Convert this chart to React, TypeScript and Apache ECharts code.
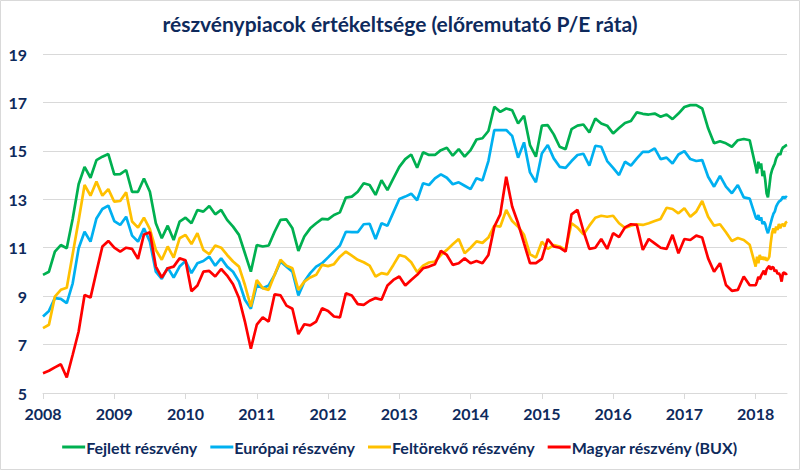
import React, { useEffect, useRef } from "react";
import * as echarts from "echarts";

const startYear = 2008;
const yearTicks = [2008, 2009, 2010, 2011, 2012, 2013, 2014, 2015, 2016, 2017, 2018];
const seriesNames = ["Fejlett részvény", "Európai részvény", "Feltörekvő részvény", "Magyar részvény (BUX)"];
const seriesColors = ["#00B050", "#00B0F0", "#FFC000", "#FF0000"];

// Monthly values, Jan 2008 – Dec 2017
const fejlettMonthly = [
  9.88, 10.01, 10.84, 11.11, 10.98, 12.2, 13.62, 14.34, 13.89, 14.62, 14.76, 14.87,
  14.03, 14.04, 14.21, 13.31, 13.31, 13.86, 13.31, 12.01, 11.39, 11.91, 11.32, 12.08,
  12.24, 12.01, 12.56, 12.49, 12.72, 12.38, 12.56, 12.15, 11.87, 11.53, 10.77, 10.01,
  11.11, 11.05, 11.09, 11.66, 12.15, 12.17, 11.8, 10.87, 11.46, 11.8, 12.01, 12.19,
  12.17, 12.35, 12.46, 13.07, 13.11, 13.31, 13.66, 13.59, 13.18, 13.79, 13.38, 13.86,
  14.34, 14.66, 14.85, 14.3, 14.94, 14.83, 14.83, 15.03, 15.13, 14.8, 15.07, 14.76,
  15.03, 15.47, 15.52, 15.82, 16.82, 16.61, 16.75, 16.68, 16.13, 16.45, 15.24, 14.76,
  16.04, 16.06, 15.68, 15.17, 15.07, 15.9, 16.04, 16.09, 15.76, 16.34, 16.13, 16.04,
  15.72, 15.94, 16.15, 16.23, 16.59, 16.53, 16.5, 16.54, 16.41, 16.5, 16.31, 16.54,
  16.81, 16.89, 16.89, 16.75, 15.93, 15.31, 15.4, 15.31, 15.17, 15.44, 15.49, 15.44,
];
const europaiMonthly = [
  8.16, 8.39, 8.92, 8.89, 8.71, 9.53, 10.98, 11.66, 11.25, 12.21, 12.6, 12.74,
  12.1, 11.94, 12.28, 11.5, 11.25, 11.8, 11.25, 10.01, 9.71, 10.18, 9.77, 10.22,
  10.45, 9.95, 10.36, 10.45, 10.63, 10.26, 10.56, 10.22, 10.01, 9.6, 8.85, 8.48,
  9.46, 9.33, 9.44, 9.88, 10.43, 10.22, 10.01, 9.03, 9.6, 9.95, 10.22, 10.36,
  10.6, 10.85, 11.09, 11.66, 11.64, 11.64, 11.97, 11.99, 11.36, 12.01, 11.91, 12.46,
  13.01, 13.11, 13.23, 12.96, 13.66, 13.59, 13.86, 14.03, 13.89, 13.62, 13.7, 13.56,
  13.42, 13.87, 13.78, 14.58, 15.86, 15.86, 15.86, 15.62, 14.72, 15.35, 14.11, 13.7,
  14.89, 15.24, 14.69, 14.34, 14.3, 14.58, 14.83, 14.88, 14.39, 15.21, 15.17, 14.58,
  14.3, 14.0, 14.55, 14.39, 14.69, 14.96, 14.96, 15.1, 14.66, 14.72, 14.48, 14.85,
  14.99, 14.66, 14.58, 14.62, 13.93, 13.52, 13.97, 13.52, 13.25, 13.59, 13.08, 13.03,
];
const feltorekvoMonthly = [
  7.68, 7.82, 8.98, 9.26, 9.35, 10.74, 12.12, 13.59, 13.15, 13.73, 13.15, 13.42,
  12.9, 12.93, 13.29, 12.08, 11.83, 12.24, 11.77, 10.91, 10.5, 11.05, 10.59, 11.39,
  11.53, 11.15, 11.6, 10.91, 10.73, 11.09, 11.0, 10.7, 10.43, 10.22, 9.46, 8.57,
  9.67, 9.33, 9.26, 9.88, 10.5, 10.26, 10.15, 9.26, 9.6, 9.77, 9.88, 10.29,
  10.24, 10.32, 10.63, 10.84, 10.67, 10.5, 10.4, 10.26, 9.81, 9.95, 9.9, 10.29,
  10.7, 10.63, 10.4, 9.99, 10.26, 10.39, 10.43, 10.7, 10.91, 11.14, 11.36, 10.77,
  11.0, 11.26, 11.2, 11.42, 11.91, 11.87, 12.56, 12.1, 11.87, 11.53, 10.73, 10.59,
  11.25, 10.95, 11.11, 11.05, 10.91, 12.01, 11.83, 11.55, 11.91, 12.24, 12.32, 12.28,
  12.32, 12.01, 11.82, 11.91, 11.97, 11.94, 12.01, 12.1, 12.19, 12.65, 12.6, 12.42,
  12.63, 12.28, 12.49, 12.93, 12.28, 11.91, 11.97, 11.64, 11.28, 11.4, 11.32, 11.12,
];
const magyarMonthly = [
  5.82, 5.92, 6.06, 6.19, 5.64, 6.58, 7.54, 9.05, 8.94, 10.01, 11.05, 11.28,
  11.0, 10.84, 11.0, 10.95, 10.54, 11.55, 11.64, 10.22, 9.77, 10.15, 10.22, 10.56,
  10.48, 9.2, 9.44, 10.01, 10.04, 9.81, 10.12, 9.85, 9.49, 8.92, 7.95, 6.83,
  7.82, 8.12, 7.95, 9.08, 9.03, 8.61, 8.48, 7.43, 7.84, 7.79, 7.95, 8.5,
  8.39, 8.16, 8.12, 9.12, 9.03, 8.67, 8.64, 8.81, 8.92, 8.85, 9.44, 9.67,
  9.81, 9.44, 9.67, 9.88, 10.15, 10.22, 10.32, 10.87, 10.7, 10.29, 10.36, 10.56,
  10.36, 10.45, 10.36, 10.7, 11.87, 12.38, 13.93, 12.7, 12.01, 11.18, 10.36, 10.36,
  10.54, 11.36, 11.05, 11.0, 10.84, 12.38, 12.56, 11.69, 10.95, 11.0, 11.36, 10.95,
  11.6, 11.44, 11.84, 11.97, 11.94, 10.91, 11.36, 11.18, 11.0, 10.95, 11.53, 10.77,
  11.36, 11.32, 11.5, 11.42, 10.56, 10.01, 10.36, 9.46, 9.22, 9.26, 9.81, 9.45,
];

// Weekly values, 2018
const fejlettWeekly2018 = [14.35, 14.07, 14.55, 14.28, 14.48, 13.96, 14.18, 13.8, 13.25, 13.08, 13.52, 14.0, 14.21, 14.35, 14.48, 14.69, 14.79, 14.9, 14.83, 15.03, 15.14, 15.17, 15.22, 15.24];
const europaiWeekly2018 = [12.26, 12.17, 12.35, 12.12, 12.26, 11.98, 12.08, 11.98, 11.76, 11.6, 11.8, 12.01, 12.22, 12.4, 12.49, 12.7, 12.81, 12.9, 12.94, 13.0, 13.11, 13.04, 13.11, 13.08];
const feltorekvoWeekly2018 = [10.22, 10.63, 10.36, 10.7, 10.52, 10.63, 10.5, 10.61, 10.47, 10.52, 10.63, 11.18, 11.6, 11.8, 11.6, 11.87, 11.73, 11.98, 11.8, 11.94, 11.98, 11.87, 12.04, 12.08];
const magyarWeekly2018 = [9.45, 9.6, 9.8, 9.7, 9.85, 9.95, 10.05, 9.88, 10.1, 10.18, 10.25, 10.1, 10.2, 10.18, 10.02, 10.08, 9.92, 9.95, 9.85, 9.6, 9.95, 9.98, 9.9, 9.95];

const yMin = 5;
const yMax = 19;
const yStep = 2;
const xMax = 2018.44;

function buildPoints(monthly: number[], weekly: number[]): [number, number][] {
  const pts: [number, number][] = monthly.map((v, i) => [startYear + i / 12, v]);
  weekly.forEach((v, w) => pts.push([2018 + (w * 7) / 365, v]));
  return pts;
}

const NAVY = "#0E2A5C";
const FONT = "Lato";

export default function App() {
  const ref = useRef<HTMLDivElement>(null);
  useEffect(() => {
    if (!ref.current) return;
    const chart = echarts.init(ref.current, undefined, { renderer: "svg" });
    const allMonthly = [fejlettMonthly, europaiMonthly, feltorekvoMonthly, magyarMonthly];
    const allWeekly = [fejlettWeekly2018, europaiWeekly2018, feltorekvoWeekly2018, magyarWeekly2018];
    chart.setOption({
      animation: false,
      backgroundColor: "#ffffff",
      title: {
        text: "részvénypiacok értékeltsége (előremutató P/E ráta)",
        left: "center",
        top: 8,
        textStyle: { fontFamily: FONT, fontSize: 21, fontWeight: "bold", color: NAVY },
      },
      graphic: [
        {
          type: "rect",
          shape: { x: 0.5, y: 0.5, width: 799, height: 469 },
          style: { fill: "none", stroke: "#d9d9d9", lineWidth: 1 },
          silent: true,
        },
      ],
      legend: {
        bottom: 10,
        left: "center",
        icon: "rect",
        itemWidth: 23,
        itemHeight: 3,
        itemGap: 13,
        textStyle: { fontFamily: FONT, fontSize: 16, fontWeight: "bold", color: NAVY, padding: [0, 0, 0, -4] },
        data: seriesNames,
      },
      grid: { left: 43, right: 13, top: 54, bottom: 77, containLabel: false },
      xAxis: {
        type: "value",
        min: startYear,
        max: xMax,
        interval: 1,
        axisLine: { show: true, lineStyle: { color: "#d9d9d9", width: 1 } },
        axisTick: { show: true, length: 6, lineStyle: { color: "#d9d9d9" }, customValues: yearTicks },
        axisLabel: {
          fontFamily: FONT,
          fontSize: 16,
          fontWeight: "bold",
          color: NAVY,
          margin: 12,
          customValues: yearTicks,
          formatter: (v: number) => String(Math.round(v)),
        },
        splitLine: { show: false },
      },
      yAxis: {
        type: "value",
        min: yMin,
        max: yMax,
        interval: yStep,
        axisLine: { show: false },
        axisTick: { show: false },
        axisLabel: { fontFamily: FONT, fontSize: 16, fontWeight: "bold", color: NAVY, margin: 16 },
        splitLine: { show: true, lineStyle: { color: "#d9d9d9", width: 1 } },
      },
      series: seriesNames.map((name, i) => ({
        name,
        type: "line",
        showSymbol: false,
        symbol: "none",
        color: seriesColors[i],
        lineStyle: { width: 2.7, color: seriesColors[i] },
        data: buildPoints(allMonthly[i], allWeekly[i]),
      })),
    });
    return () => chart.dispose();
  }, []);
  return <div ref={ref} style={{ position: "fixed", left: 0, top: 0, width: 800, height: 470 }} />;
}
